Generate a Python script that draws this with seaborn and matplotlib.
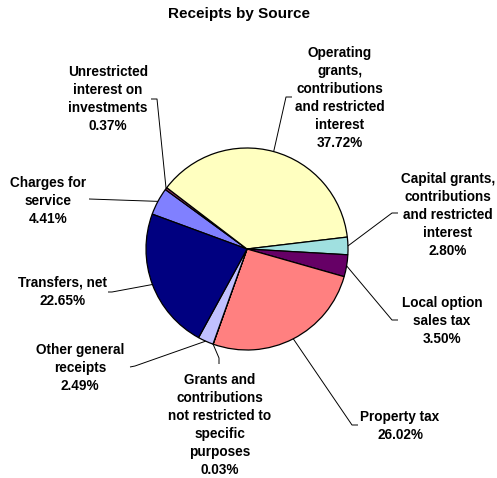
import numpy as np
import matplotlib
matplotlib.use("Agg")
import matplotlib.pyplot as plt
import seaborn as sns

# Receipts by source, in the order the slices are drawn (clockwise)
sources = [
    "Charges for\nservice",
    "Unrestricted\ninterest on\ninvestments",
    "Operating\ngrants,\ncontributions\nand restricted\ninterest",
    "Capital grants,\ncontributions\nand restricted\ninterest",
    "Local option\nsales tax",
    "Property tax",
    "Grants and\ncontributions\nnot restricted to\nspecific\npurposes",
    "Other general\nreceipts",
    "Transfers, net",
]
shares = [4.41, 0.37, 37.72, 2.80, 3.50, 26.02, 0.03, 2.49, 22.65]
colors = ["#8080FF", "#993366", "#FFFFC0", "#A0E0E0", "#660066",
          "#FF8080", "#0066CC", "#C0C0FF", "#000080"]

# layout, in pixels from the top left
W, H = 497, 478
label_pos = [(48, 201), (108, 99), (340, 98), (448, 215), (442, 321),
             (400, 426), (220, 425), (80, 368), (63, 292)]
leaders = [
    [(89, 199)],
    [(151, 99), (157, 99)],
    [(292, 97), (286, 97)],
    [(398, 213), (392, 213)],
    [(398, 320), (392, 320)],
    [(358, 425), (352, 425)],
    [(219, 364), (219, 358)],
    [(130, 367), (135, 366)],
    [(108, 292), (112, 292)],
]

sns.set_style("white")
plt.rcParams["font.family"] = ["Liberation Sans", "DejaVu Sans"]
plt.rcParams["text.color"] = "black"

fig = plt.figure(figsize=(W / 100, H / 100), dpi=100)
ax = fig.add_axes([0, 0, 1, 1])

wedges, _ = ax.pie(shares, colors=colors, startangle=159.8, counterclock=False,
                   center=(247, H - 249), radius=101,
                   wedgeprops=dict(edgecolor="black", linewidth=0.9))
ax.set_xlim(0, W)
ax.set_ylim(0, H)
ax.set_aspect("equal")
ax.axis("off")

for w, name, v, (lx, ly), pts in zip(wedges, sources, shares, label_pos, leaders):
    mid = np.deg2rad((w.theta1 + w.theta2) / 2)
    ex = w.center[0] + w.r * np.cos(mid)
    ey = w.center[1] + w.r * np.sin(mid)
    xs = [p[0] for p in pts] + [ex]
    ys = [H - p[1] for p in pts] + [ey]
    ax.plot(xs, ys, color="black", lw=0.7, solid_capstyle="butt")
    ax.text(lx, H - ly, f"{name}\n{v:.2f}%", ha="center", va="center",
            fontsize=9.8, fontweight="bold", linespacing=1.38, color="black")

fig.text(239.5 / W, 1 - 14 / H, "Receipts by Source", ha="center", va="center",
         fontsize=11, fontweight="bold", color="black")

fig.savefig("out.png", dpi=100)
